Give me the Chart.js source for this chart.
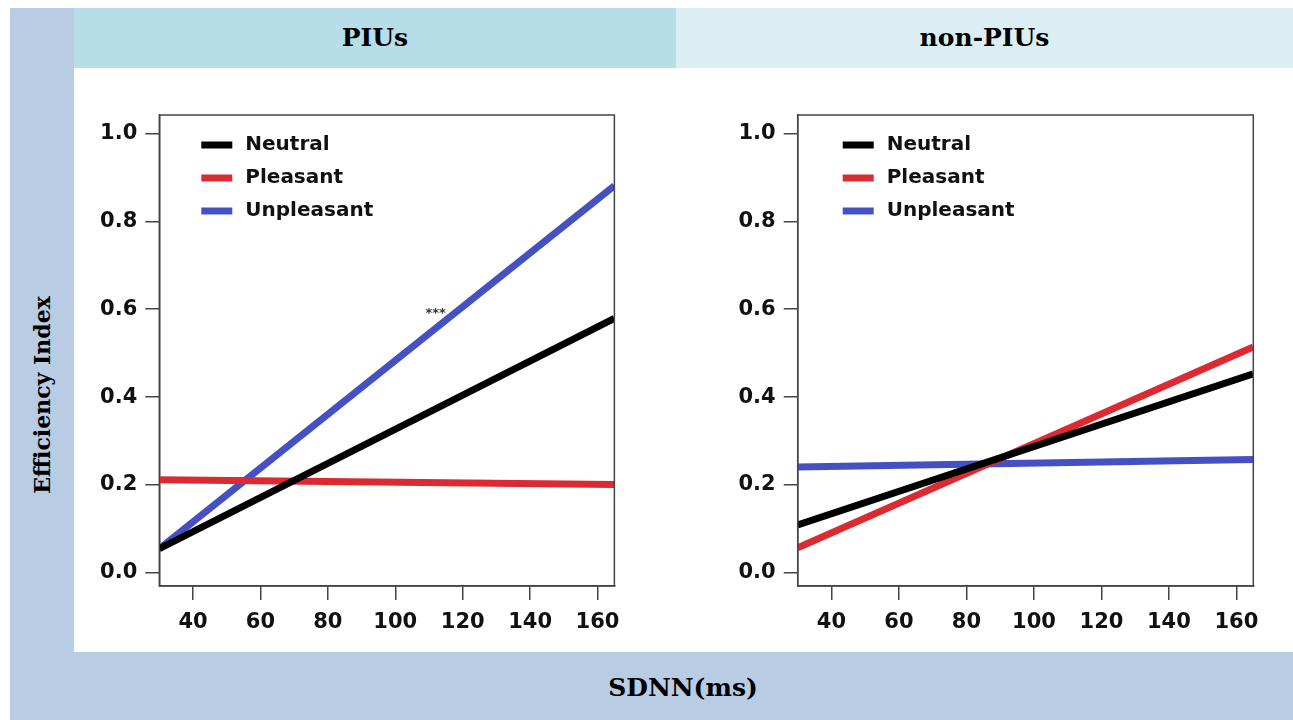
<!DOCTYPE html>
<html>
<head>
<meta charset="utf-8">
<script src="https://cdn.jsdelivr.net/npm/chart.js@4.4.0/dist/chart.umd.min.js"></script>
<style>
  body { margin: 0; width: 1293px; height: 720px; background: #fff; position: relative; overflow: hidden; }
  .band { position: absolute; }
  .title { position: absolute; font-family: 'DejaVu Serif', serif; font-weight: bold; color: #000; text-align: center; }
  .box { position: absolute; }
</style>
</head>
<body>
<div class="band" style="left:10px;top:8px;width:64px;height:712px;background:#b8cce4"></div>
<div class="band" style="left:10px;top:652px;width:1283px;height:68px;background:#b8cce4"></div>
<div class="band" style="left:74px;top:8px;width:602px;height:60px;background:#b7dde8"></div>
<div class="band" style="left:676px;top:8px;width:617px;height:60px;background:#daeef3"></div>

<div class="title" style="left:74px;top:8px;width:602px;height:60px;line-height:60px;font-size:25px">PIUs</div>
<div class="title" style="left:676px;top:8px;width:617px;height:60px;line-height:60px;font-size:25px">non-PIUs</div>
<div class="title" style="left:533px;top:652px;width:300px;height:68px;line-height:72px;font-size:25px">SDNN(ms)</div>
<div class="title" style="left:-108px;top:380px;width:300px;height:30px;line-height:30px;font-size:22px;transform:rotate(-90deg)">Efficiency Index</div>

<div class="box" style="left:90px;top:90px;width:540px;height:560px"><canvas id="pius" width="540" height="560"></canvas></div>
<div class="box" style="left:730px;top:90px;width:540px;height:560px"><canvas id="nonpius" width="540" height="560"></canvas></div>

<script>
// x positions of the fitted line ends (plot edges)
const xEnds = [30, 165];
const xTicks = [40, 60, 80, 100, 120, 140, 160];
const yTicks = [0, 0.2, 0.4, 0.6, 0.8, 1.0];
const seriesNames = ['Neutral', 'Pleasant', 'Unpleasant'];

// PIUs group
const piusNeutral = [0.055, 0.579];
const piusPleasant = [0.212, 0.201];
const piusUnpleasant = [0.055, 0.881];

// non-PIUs group
const nonPiusNeutral = [0.109, 0.453];
const nonPiusPleasant = [0.057, 0.514];
const nonPiusUnpleasant = [0.241, 0.258];

// significance mark on the PIUs unpleasant slope
const starX = 112;
const starY = 0.59;
const starText = '***';

const seriesColors = ['#000000', '#dc2a32', '#4551c2'];
const tickFont = { family: 'DejaVu Sans', weight: 'bold', size: 21 };

const framePlugin = {
    id: 'frame',
    afterDatasetsDraw(chart, args, opts) {
        const ctx = chart.ctx;
        const a = chart.chartArea;
        ctx.save();
        // box around plot
        ctx.strokeStyle = '#444';
        ctx.lineWidth = 1.5;
        ctx.strokeRect(a.left, a.top, a.right - a.left, a.bottom - a.top);

        // legend in the upper left corner
        ctx.font = 'bold 20px "DejaVu Sans"';
        ctx.textBaseline = 'middle';
        chart.data.datasets.forEach((ds, i) => {
            const y = a.top + 30 + i * 33;
            const x = a.left + opts.legendX;
            ctx.strokeStyle = ds.borderColor;
            ctx.lineWidth = 7;
            ctx.beginPath();
            ctx.moveTo(x, y);
            ctx.lineTo(x + 31, y);
            ctx.stroke();
            ctx.fillStyle = '#111';
            ctx.fillText(ds.label, x + 44, y);
        });

        if (opts.star) {
            const px = chart.scales.x.getPixelForValue(starX);
            const py = chart.scales.y.getPixelForValue(starY);
            ctx.font = 'bold 13px "DejaVu Sans"';
            ctx.fillStyle = '#333';
            ctx.textAlign = 'center';
            ctx.fillText(starText, px, py);
        }
        ctx.restore();
    }
};

function makeChart(id, values, plotLeft, plotRight, legendX, star) {
    const ctx = document.getElementById(id).getContext('2d');
    return new Chart(ctx, {
        type: 'line',
        data: {
            datasets: values.map((vals, i) => ({
                label: seriesNames[i],
                data: xEnds.map((x, j) => ({ x: x, y: vals[j] })),
                borderColor: seriesColors[i],
                borderWidth: 7,
                pointRadius: 0,
                tension: 0,
                borderCapStyle: 'butt',
                clip: 0
            }))
        },
        options: {
            responsive: false,
            animation: false,
            devicePixelRatio: 1,
            layout: { padding: { top: 25, right: 540 - plotRight, left: 0, bottom: 0 } },
            plugins: {
                legend: { display: false },
                tooltip: { enabled: false },
                frame: { legendX: legendX, star: star }
            },
            scales: {
                x: {
                    type: 'linear',
                    min: 30,
                    max: 165,
                    afterBuildTicks: s => { s.ticks = xTicks.map(v => ({ value: v })); },
                    afterFit: s => { s.height = 64; },
                    grid: { drawOnChartArea: false, drawTicks: true, tickLength: 14, color: '#444', lineWidth: 1.5 },
                    border: { display: true, color: '#444', width: 1.5 },
                    ticks: { color: '#111', font: tickFont, padding: 10, autoSkip: false, maxRotation: 0,
                             callback: v => String(v) }
                },
                y: {
                    type: 'linear',
                    min: -0.03,
                    max: 1.042,
                    afterBuildTicks: s => { s.ticks = yTicks.map(v => ({ value: v })); },
                    afterFit: s => { s.width = plotLeft; },
                    grid: { drawOnChartArea: false, drawTicks: true, tickLength: 14, color: '#444', lineWidth: 1.5 },
                    border: { display: true, color: '#444', width: 1.5 },
                    ticks: { color: '#111', font: tickFont, padding: 8, callback: v => v.toFixed(1) }
                }
            }
        },
        plugins: [framePlugin]
    });
}

makeChart('pius', [piusNeutral, piusPleasant, piusUnpleasant], 69.3, 525, 42, true);
makeChart('nonpius', [nonPiusNeutral, nonPiusPleasant, nonPiusUnpleasant], 67.7, 523.3, 45, false);
</script>
</body>
</html>
